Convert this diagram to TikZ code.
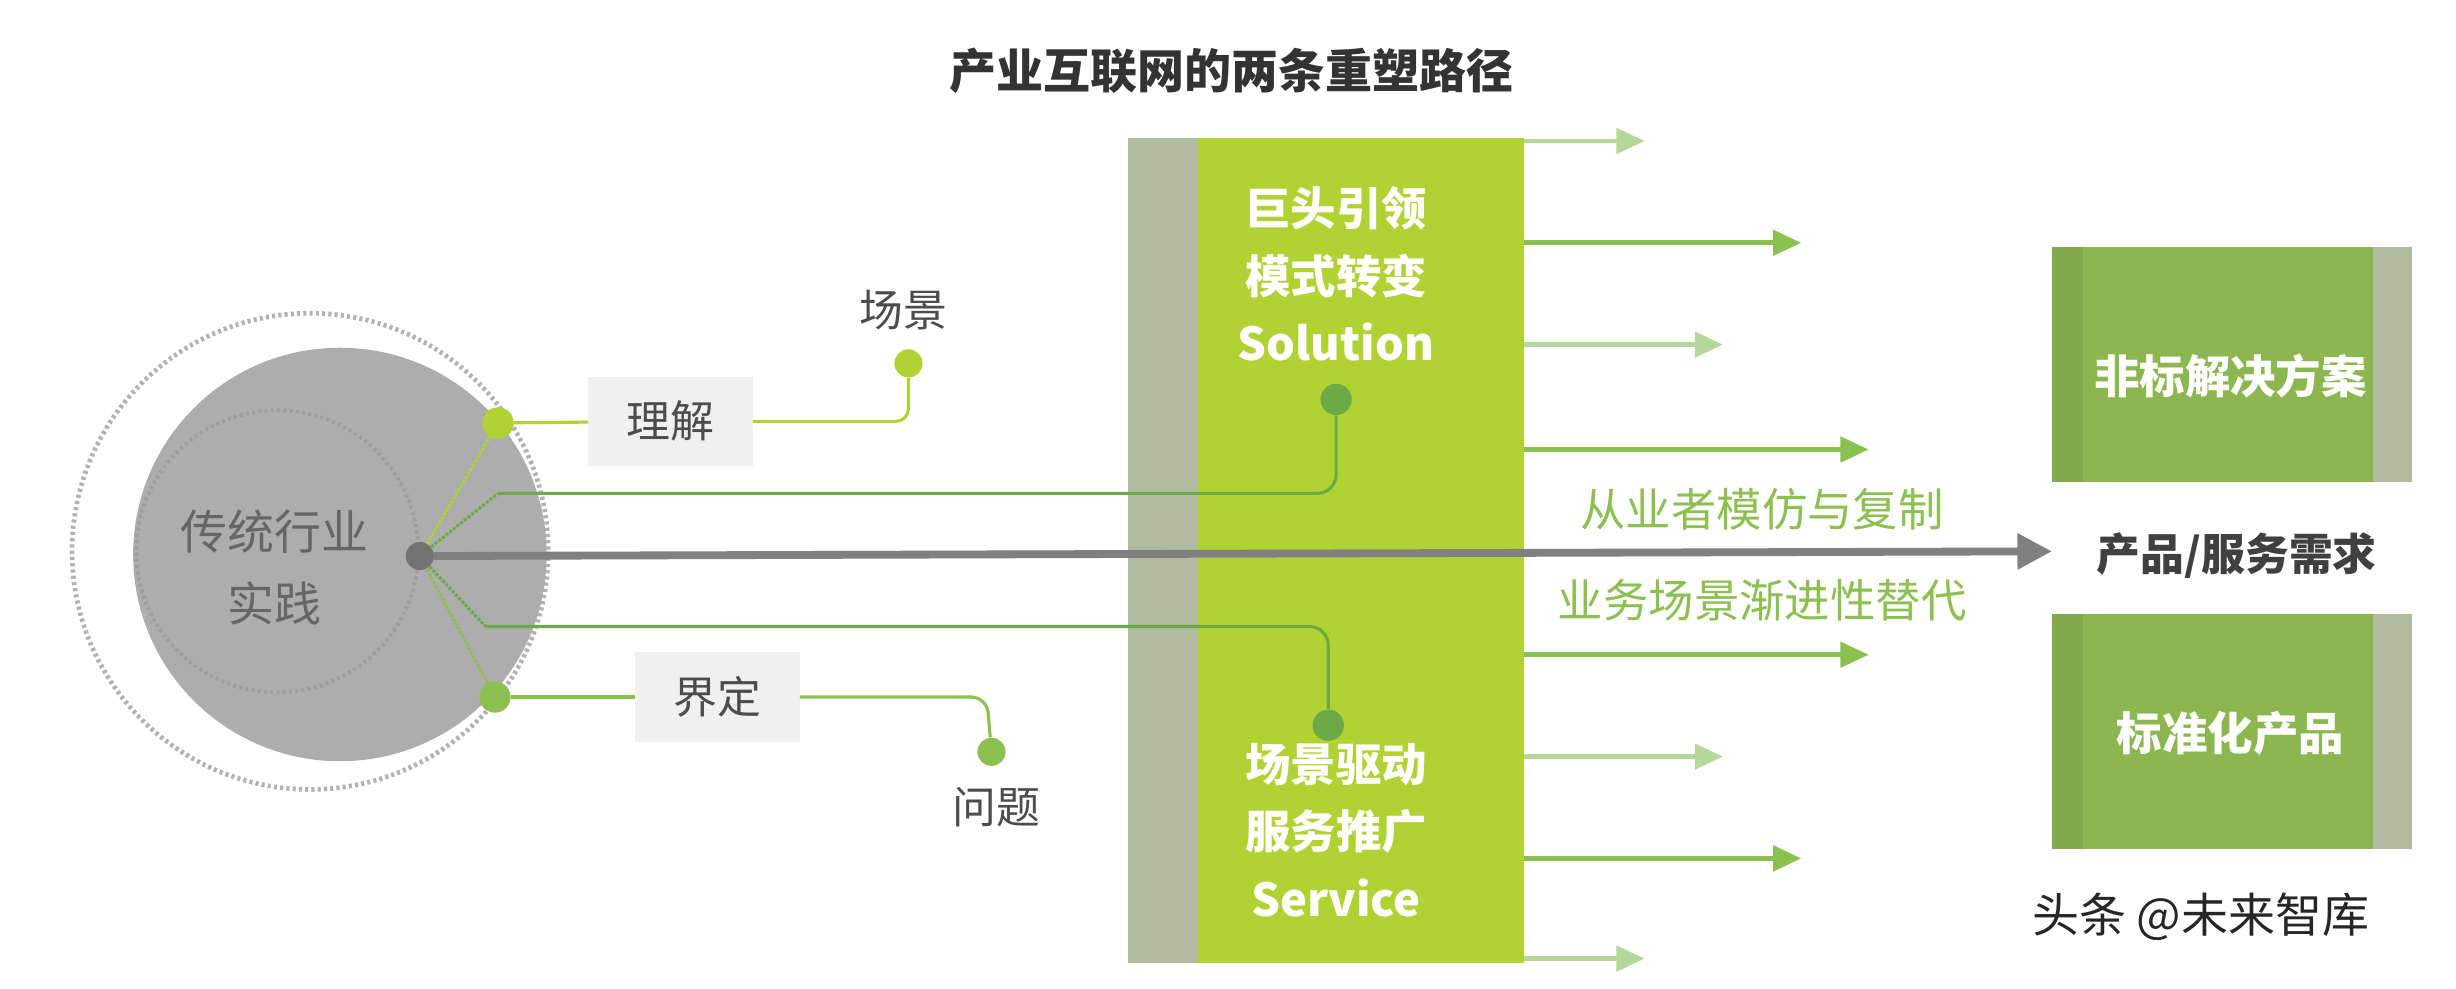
\documentclass[tikz,border=0pt]{standalone}
\usepackage{fontspec}
\setmainfont{Noto Sans CJK SC}
\usetikzlibrary{arrows.meta}
\definecolor{barg}{HTML}{B1D233}
\definecolor{strip}{HTML}{B2BA9F}
\definecolor{boxg}{HTML}{8CB650}
\definecolor{lg}{HTML}{B4D89A}
\definecolor{mg}{HTML}{8CC152}
\definecolor{dg}{HTML}{6DAA45}
\definecolor{txtg}{HTML}{8CC152}
\tikzset{x=1pt,y=-1pt,
 lab/.style={font=\fontsize{28}{32}\selectfont,text=black!70},
 wbold/.style={font=\bfseries\fontsize{29}{43}\selectfont,text=white,align=center},
 arr/.style={-{Triangle[length=18pt,width=16pt]},line width=3pt},
 dot/.style={circle,inner sep=0pt,minimum size=20pt},
 lbox/.style={fill=black!6,minimum width=105pt,minimum height=57pt,font=\fontsize{28}{32}\selectfont,text=black!70}}
\begin{document}
\begin{tikzpicture}
\useasboundingbox (0,0) rectangle (1568,631);
\node[font=\bfseries\fontsize{30}{34}\selectfont,text=black!80] (title) at (786,45) {产业互联网的两条重塑路径};
% circles
\draw[black!30,line width=3pt,dash pattern=on 2pt off 2pt] (198,352) circle (152);
\fill[black!32] (217,354) circle (132);
\draw[black!38,line width=2.5pt,dash pattern=on 2pt off 2pt] (177,352) circle (90);
\node[text=black!60,align=center,font=\fontsize{30}{46}\selectfont] (ct) at (175,362) {传统行业\\实践};
% bars
\fill[strip] (720,88) rectangle (765,615);
\fill[barg] (765,88) rectangle (973,615);
\node[wbold] (top) at (853,175) {巨头引领\\模式转变\\Solution};
\node[wbold] (bot) at (853,530) {场景驱动\\服务推广\\Service};
% arrows
\foreach \y/\e/\c in {90/1050/lg,155/1150/mg,220/1100/lg,287/1193/mg,418/1193/mg,483/1100/lg,548/1150/mg,612/1050/lg}{
 \coordinate (s\y) at (973,\y); \coordinate (e\y) at (\e,\y);
 \draw[arr,\c] (s\y) -- (e\y);}
% centre
\node[dot,fill=black!55,minimum size=18pt] (c) at (268,355) {};
\coordinate (ae) at (1310,352);
\draw[-{Triangle[length=22pt,width=22pt]},line width=5pt,black!50] (c) -- (ae);
\node[font=\fontsize{29}{32}\selectfont,text=txtg] (t1) at (1125,325) {从业者模仿与复制};
\node[font=\fontsize{29}{32}\selectfont,text=txtg] (t2) at (1125,383) {业务场景渐进性替代};
\node[font=\bfseries\fontsize{28}{32}\selectfont,text=black!75] (pd) at (1428,355) {产品/服务需求};
% right boxes
\fill[boxg] (1310,158) rectangle (1515,308); \fill[boxg!92!black] (1310,158) rectangle (1330,308);
\fill[strip] (1515,158) rectangle (1540,308);
\node[wbold] (b1) at (1424,240) {非标解决方案};
\fill[boxg] (1310,392) rectangle (1515,542); \fill[boxg!92!black] (1310,392) rectangle (1330,542);
\fill[strip] (1515,392) rectangle (1540,542);
\node[wbold] (b2) at (1424,468) {标准化产品};
% upper branch
\node[dot,fill=barg] (d1) at (318,270) {};
\node[lbox] (lj) at (428,269) {理解};
\node[dot,fill=barg,minimum size=18pt] (d2) at (580,232) {};
\node[lab] (cj) at (577,198) {场景};
\draw[barg,line width=2pt,densely dotted] (c) -- (d1);
\draw[barg,line width=2pt] (d1) -- (lj);
\draw[barg,line width=2pt,rounded corners=8pt] (lj.east) -- (580,269) -- (d2);
% lower branch
\node[dot,fill=mg] (d3) at (316,445) {};
\node[lbox] (jd) at (458,445) {界定};
\node[dot,fill=mg,minimum size=18pt] (d4) at (633,480) {};
\node[lab] (wt) at (636,515) {问题};
\draw[mg,line width=2pt,densely dotted] (c) -- (d3);
\draw[mg,line width=2pt] (d3) -- (jd);
\draw[mg,line width=2pt,rounded corners=10pt] (jd.east) -- (630,445) -- (d4);
% solution / service lines
\node[dot,fill=dg] (d5) at (853,255) {};
\node[dot,fill=dg] (d6) at (848,463) {};
\coordinate (k1) at (318,315);
\coordinate (k2) at (310,400);
\draw[dg,line width=2pt,densely dotted] (c) -- (k1);
\draw[dg,line width=2pt,rounded corners=12pt] (k1) -- (853,315) -- (d5);
\draw[dg,line width=2pt,densely dotted] (c) -- (k2);
\draw[dg,line width=2pt,rounded corners=12pt] (k2) -- (848,400) -- (d6);
\node[font=\fontsize{30}{34}\selectfont,text=black!85] (wm) at (1405,585) {头条 @未来智库};
\end{tikzpicture}
\end{document}
